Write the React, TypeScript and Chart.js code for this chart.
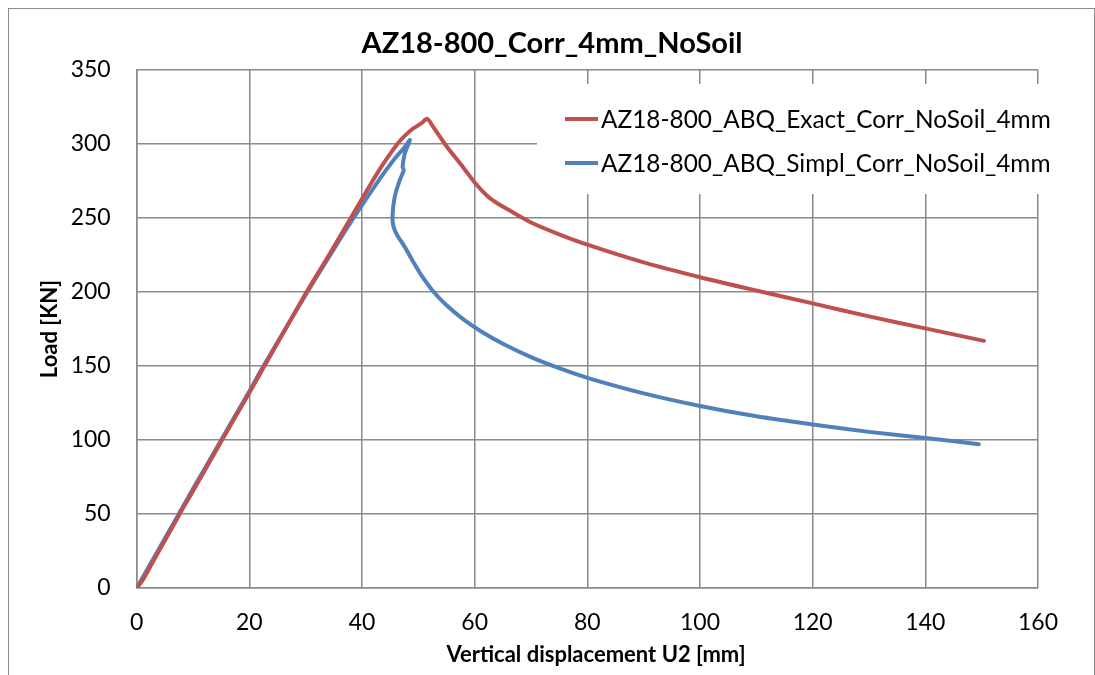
import React, { useEffect, useRef } from "react";
import { Chart, registerables } from "chart.js";

Chart.register(...registerables);

const TITLE = "AZ18-800_Corr_4mm_NoSoil";
const X_TITLE = "Vertical displacement U2 [mm]";
const Y_TITLE = "Load [KN]";
const SERIES_NAMES = ["AZ18-800_ABQ_Exact_Corr_NoSoil_4mm", "AZ18-800_ABQ_Simpl_Corr_NoSoil_4mm"];
const SERIES_COLORS = ["#C0504D", "#4F81BD"];

// Exact model: displacement (mm) and load (kN)
const exactX = [0, 1, 2, 3, 5, 8, 10, 15, 20, 25, 30, 34.3, 38, 41.4, 43.5, 45.3, 46.7, 48, 49.1, 50.5, 51.6, 52.6, 55, 58, 60, 62.4, 64, 66, 70, 75, 80, 90, 100, 110, 120, 130, 140, 150.4];
const exactY = [0, 5, 11.5, 18.5, 32, 52.5, 65.5, 99, 132, 165.5, 199, 226, 250, 272, 285, 295, 302, 307, 310.5, 314, 317, 311.7, 298.5, 284, 274, 264.3, 260, 255.5, 247, 239, 232, 220, 210, 201, 192.3, 183.5, 175.4, 167];

// Simplified model
const simplX = [0, 5, 10, 15, 20, 22.5, 30.3, 35, 38.5, 42, 44, 46, 47.5, 48.5, 47.6, 47.2, 47.4, 46.7, 45.8, 45.4, 45.6, 46.3, 47.5, 49, 50.5, 52.5, 55, 58, 61.1, 65, 70, 75, 80, 90, 100, 110, 120, 130, 140, 149.5];
const simplY = [0, 33.5, 67, 100, 133, 150, 200, 229, 250, 270, 281, 291, 297.5, 302.7, 293.7, 284.6, 282.4, 275.6, 264.3, 250.8, 244, 238, 231, 221, 211.5, 201, 191, 181.5, 173.5, 165, 156, 148.5, 142, 131.5, 123, 116, 110.5, 105.5, 101.3, 97.2];

const X_MIN = 0, X_MAX = 160, X_STEP = 20;
const Y_MIN = 0, Y_MAX = 350, Y_STEP = 50;

const FONT = 'Lato, "Open Sans", "DejaVu Sans", sans-serif';
const GRID = "#8a8a8a";

const decorPlugin = {
  id: "decor",
  afterDraw(chart: any) {
    const ctx = chart.ctx;
    ctx.save();
    ctx.fillStyle = "#000";
    ctx.textAlign = "center";
    ctx.textBaseline = "middle";
    // chart title
    ctx.font = `bold 29px ${FONT}`;
    ctx.fillText(TITLE, 552, 44);
    // x axis title
    ctx.font = `bold 22px ${FONT}`;
    ctx.fillText(X_TITLE, 596, 655);

    // legend box
    ctx.fillStyle = "#ffffff";
    ctx.fillRect(537, 84, 525, 110);
    ctx.font = `22px ${FONT}`;
    const w = ctx.measureText(SERIES_NAMES[0]).width;
    let size = 22 * 450 / w;
    size = Math.max(18, Math.min(26, size));
    ctx.font = `${size}px ${FONT}`;
    ctx.textBaseline = "middle";
    ctx.textAlign = "left";
    const ys = [119, 163];
    chart.data.datasets.forEach((ds: any, i: number) => {
      ctx.strokeStyle = ds.borderColor;
      ctx.lineWidth = 4;
      ctx.beginPath();
      ctx.moveTo(565, ys[i]);
      ctx.lineTo(598, ys[i]);
      ctx.stroke();
      ctx.fillStyle = "#000000";
      ctx.fillText(ds.label, 601, ys[i] + 1);
    });
    ctx.restore();
  },
};

export default function App() {
  const ref = useRef<HTMLCanvasElement | null>(null);

  useEffect(() => {
    if (!ref.current) return;
    const mk = (xs: number[], ys: number[]) => xs.map((x, i) => ({ x, y: ys[i] }));
    const common = {
      showLine: true,
      borderWidth: 4,
      pointRadius: 0,
      tension: 0.25,
      borderCapStyle: "round",
      borderJoinStyle: "round",
    };
    const chart = new Chart(ref.current, {
      type: "scatter",
      data: {
        datasets: [
          {
            label: SERIES_NAMES[0],
            data: mk(exactX, exactY),
            borderColor: SERIES_COLORS[0],
            backgroundColor: SERIES_COLORS[0],
            ...common,
          },
          {
            label: SERIES_NAMES[1],
            data: mk(simplX, simplY),
            borderColor: SERIES_COLORS[1],
            backgroundColor: SERIES_COLORS[1],
            ...common,
          },
        ],
      } as any,
      options: {
        responsive: false,
        animation: false,
        devicePixelRatio: 1,
        layout: { padding: { left: 0, right: 57, top: 70, bottom: 0 } },
        plugins: {
          legend: { display: false },
          tooltip: { enabled: false },
          title: { display: false },
        },
        scales: {
          x: {
            type: "linear",
            min: X_MIN,
            max: X_MAX,
            afterFit: (s: any) => { s.height = 87; },
            ticks: { stepSize: X_STEP, color: "#000", font: { family: FONT, size: 23 }, padding: 21, maxRotation: 0 },
            grid: { color: GRID, lineWidth: 1.5, drawTicks: false },
            border: { color: GRID, width: 1.5 },
            title: { display: false },
          },
          y: {
            type: "linear",
            min: Y_MIN,
            max: Y_MAX,
            afterFit: (s: any) => { s.width = 136.7; },
            ticks: { stepSize: Y_STEP, color: "#000", font: { family: FONT, size: 23 }, padding: 26 },
            grid: { color: GRID, lineWidth: 1.5, drawTicks: false },
            border: { color: GRID, width: 1.5 },
            title: {
              display: true,
              text: Y_TITLE,
              color: "#000",
              font: { family: FONT, size: 22, weight: "bold", lineHeight: 1.2 },
              padding: { top: 36.8, bottom: 4 },
            },
          },
        },
      } as any,
      plugins: [decorPlugin],
    });
    return () => chart.destroy();
  }, []);

  return (
    <div style={{ position: "fixed", left: 0, top: 0, width: 1095, height: 675, overflow: "hidden", background: "#fff" }}>
      <div style={{ position: "absolute", left: 8, top: 8, width: 1085, height: 700, border: "1.5px solid #8c8c8c" }} />
      <canvas ref={ref} width={1095} height={675} style={{ position: "absolute", left: 0, top: 0, width: 1095, height: 675 }} />
    </div>
  );
}
